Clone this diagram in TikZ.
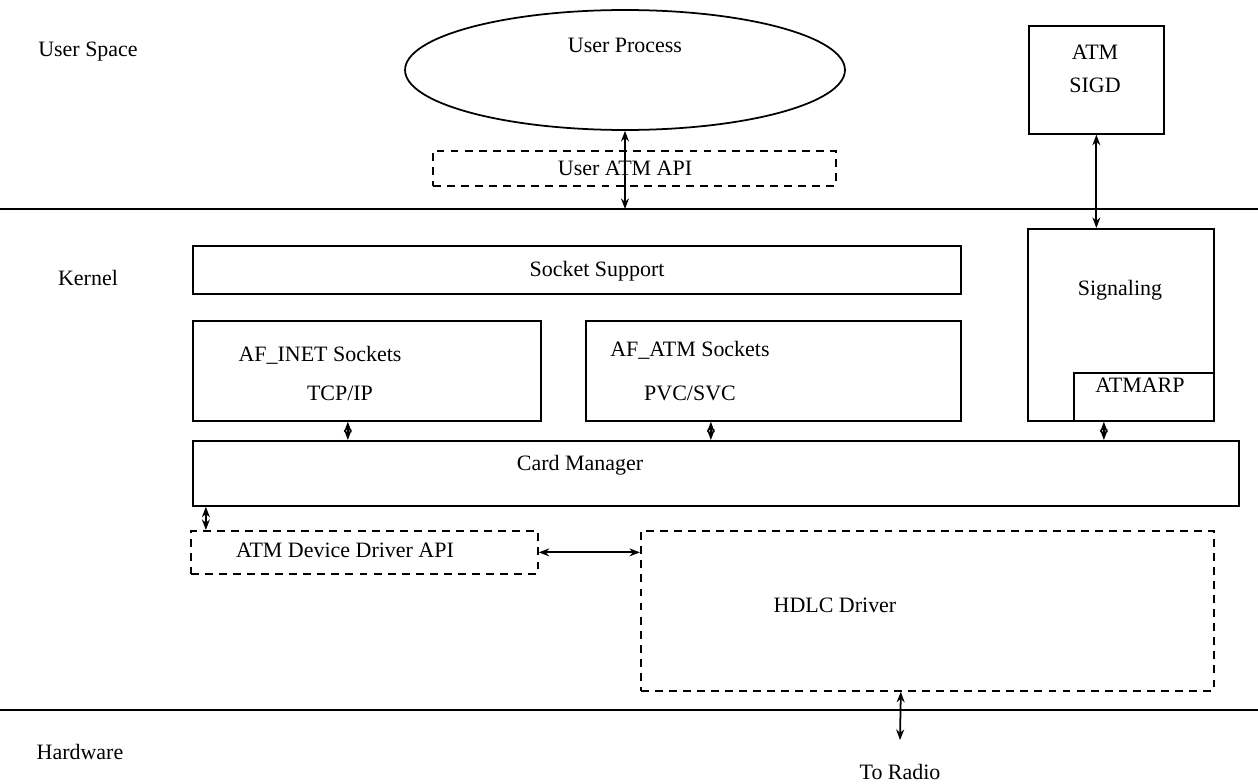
\documentclass[tikz,border=0pt]{standalone}
\usepackage{fontspec}
\setmainfont{Liberation Serif}
\usetikzlibrary{shapes.geometric, arrows.meta, positioning, calc}

\begin{document}
\begin{tikzpicture}[
    x=0.02cm, y=-0.02cm,
    font=\fontsize{12.5}{14}\selectfont,
    box/.style={rectangle, draw, line width=1pt, inner sep=0, anchor=north west},
    apibox/.style={box, dash pattern=on 4.5pt off 3.5pt},
    layer/.style={line width=1pt},
    txt/.style={inner sep=0},
    arrow/.style={{Stealth[length=6pt,width=4.5pt]}-{Stealth[length=6pt,width=4.5pt]}, line width=1pt}
]
\useasboundingbox (0,0) rectangle (1258,784);

% Layer lines
\coordinate (topl) at (0,209);
\coordinate (topr) at (1258,209);
\coordinate (botl) at (0,710);
\coordinate (botr) at (1258,710);
\draw[layer] (topl) -- (topr);
\draw[layer] (botl) -- (botr);

% Layer names
\node[txt] (userspace) at (88,52) {User Space};
\node[txt] (kernel) at (88,278) {Kernel};
\node[txt] (hardware) at (80,752) {Hardware};

% User space
\node[ellipse, draw, line width=1pt, minimum width=8.8cm, minimum height=2.4cm] (uproc) at (625,70) {};
\node[txt] (uproctxt) at (625,45) {User Process};
\node[apibox, minimum width=8.06cm, minimum height=0.7cm] (uapi) at (432,150) {};
\node[txt] (uapitxt) at (625,168) {User ATM API};
\node[box, minimum width=2.7cm, minimum height=2.16cm] (sigd) at (1028,25) {};
\node[txt] (sigdtxt1) at (1095,52) {ATM};
\node[txt] (sigdtxt2) at (1095,85) {SIGD};

% Kernel
\node[box, minimum width=15.36cm, minimum height=0.96cm] (sock) at (192,245) {};
\node[txt] (socktxt) at (597,271) {Socket Support};
\node[box, minimum width=6.96cm, minimum height=2cm] (inet) at (192,320) {};
\node[txt] (inettxt1) at (320,355) {AF\_INET Sockets};
\node[txt] (inettxt2) at (340,393) {TCP/IP};
\node[box, minimum width=7.5cm, minimum height=2cm] (afatm) at (585,320) {};
\node[txt] (afatmtxt1) at (690,350) {AF\_ATM Sockets};
\node[txt] (afatmtxt2) at (690,393) {PVC/SVC};
\node[box, minimum width=3.72cm, minimum height=3.84cm] (sig) at (1027,228) {};
\node[txt] (sigtxt) at (1120,290) {Signaling};
\node[box, minimum width=2.8cm, minimum height=0.96cm] (arp) at (1073,372) {};
\node[txt] (arptxt) at (1140,385) {ATMARP};
\node[box, minimum width=20.92cm, minimum height=1.3cm] (card) at (192,440) {};
\node[txt] (cardtxt) at (580,465) {Card Manager};
\node[apibox, minimum width=6.94cm, minimum height=0.86cm] (ddapi) at (190,530) {};
\node[txt] (ddapitxt) at (345,550) {ATM Device Driver API};
\node[apibox, minimum width=11.46cm, minimum height=3.2cm] (hdlc) at (640,530) {};
\node[txt] (hdlctxt) at (835,605) {HDLC Driver};

% Hardware
\coordinate (radio) at (900,740);
\node[txt] (radiotxt) at (900,772) {To Radio};

% Arrows
\draw[arrow] (uproc.south) -- (uproc.south |- topl);
\draw[arrow] (sigd.south) -- (sigd.south |- sig.north);
\draw[arrow] ([xshift=-0.38cm]inet.south) -- ([xshift=-0.38cm]inet.south |- card.north);
\draw[arrow] ([xshift=-1.25cm]afatm.south) -- ([xshift=-1.25cm]afatm.south |- card.north);
\draw[arrow] ([xshift=-0.8cm]arp.south) -- ([xshift=-0.8cm]arp.south |- card.north);
\draw[arrow] ([xshift=-3.17cm]ddapi.north) -- ([xshift=-3.17cm]ddapi.north |- card.south);
\draw[arrow] (ddapi.east) -- (ddapi.east -| hdlc.west);
\draw[arrow] ([xshift=-0.53cm]hdlc.south) -- (radio);

\end{tikzpicture}
\end{document}
